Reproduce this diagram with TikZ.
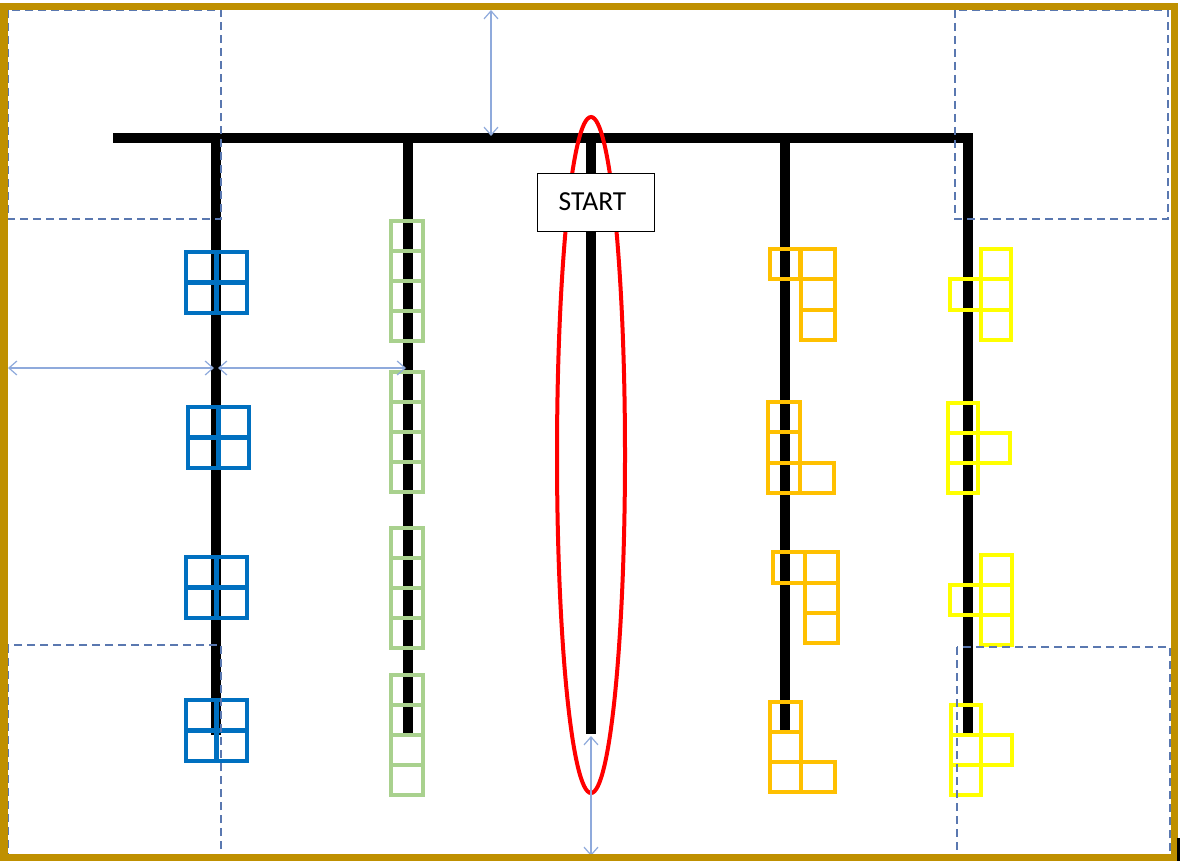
\documentclass[tikz,border=0pt]{standalone}
\usepackage{fontspec}
\setmainfont{Carlito}
\usetikzlibrary{arrows.meta}
\definecolor{framegold}{HTML}{BF9000}
\definecolor{sqblue}{HTML}{0070C0}
\definecolor{sqgreen}{HTML}{A9D18E}
\definecolor{sqorange}{HTML}{FFC000}
\definecolor{sqyellow}{HTML}{FFFF00}
\definecolor{dashblue}{HTML}{5A78B0}
\definecolor{arrowblue}{HTML}{8FAADC}
\newcommand\sqcell[5]{\draw[#1] (#2,#3) rectangle (#4,#5);}
\begin{document}
\begin{tikzpicture}[x=1pt,y=-1pt,
  bar/.style={draw=black,line width=10pt},
  cellblue/.style={draw=sqblue,line width=4.5pt},
  cellgreen/.style={draw=sqgreen,line width=4.5pt},
  cellorange/.style={draw=sqorange,line width=4.5pt},
  cellyellow/.style={draw=sqyellow,line width=4.5pt},
  dashbox/.style={draw=dashblue,line width=1.7pt,dash pattern=on 8pt off 5pt},
  dimarrow/.style={draw=arrowblue,line width=1.2pt,{Straight Barb[length=8pt,width=14pt]}-{Straight Barb[length=8pt,width=14pt]}},
  startbox/.style={draw=black,fill=white,line width=1pt,minimum width=117pt,minimum height=58pt,inner sep=0pt,font=\fontsize{27.5}{32}\selectfont}]
\useasboundingbox (0,0) rectangle (1180,864);
\fill[white] (0,0) rectangle (1180,864);
% black bars
\draw[bar] (113,138) -- (973,138);
\draw[bar] (216,138) -- (216,735);
\draw[bar] (408,138) -- (408,733);
\draw[bar] (591,138) -- (591,734);
\draw[bar] (785,138) -- (785,730);
\draw[bar] (968,138) -- (968,734);
% blue 2x2 groups
\foreach \x/\y in {186/252,188/407,186/557,186/700}{
  \draw[cellblue] (\x,\y) rectangle ++(30.5,30.5);
  \draw[cellblue] (\x+30.5,\y) rectangle ++(30.5,30.5);
  \draw[cellblue] (\x,\y+30.5) rectangle ++(30.5,30.5);
  \draw[cellblue] (\x+30.5,\y+30.5) rectangle ++(30.5,30.5);
}
% green columns
\foreach \y in {221,372,528,675}{
  \foreach \k in {0,1,2,3}{
    \draw[cellgreen] (391,\y+30*\k) rectangle ++(32,30);
  }
}
% orange shapes
\sqcell{cellorange}{770}{249}{800}{279}
\sqcell{cellorange}{801}{249}{835}{279}
\sqcell{cellorange}{801}{279}{835}{310}
\sqcell{cellorange}{801}{310}{835}{340}
\sqcell{cellorange}{768}{402}{800}{432}
\sqcell{cellorange}{768}{432}{800}{463}
\sqcell{cellorange}{768}{463}{800}{493}
\sqcell{cellorange}{800}{463}{834}{493}
\sqcell{cellorange}{773}{552}{805}{583}
\sqcell{cellorange}{805}{552}{838}{583}
\sqcell{cellorange}{805}{583}{838}{613}
\sqcell{cellorange}{805}{613}{838}{643}
\sqcell{cellorange}{770}{702}{801}{732}
\sqcell{cellorange}{770}{732}{801}{762}
\sqcell{cellorange}{770}{762}{801}{792}
\sqcell{cellorange}{801}{762}{835}{792}
% yellow shapes
\sqcell{cellyellow}{981}{249}{1011}{279}
\sqcell{cellyellow}{981}{279}{1011}{310}
\sqcell{cellyellow}{981}{310}{1011}{340}
\sqcell{cellyellow}{950}{279}{981}{310}
\sqcell{cellyellow}{948}{403}{978}{433}
\sqcell{cellyellow}{948}{433}{978}{463}
\sqcell{cellyellow}{948}{463}{978}{493}
\sqcell{cellyellow}{978}{433}{1010}{463}
\sqcell{cellyellow}{981}{555}{1012}{585}
\sqcell{cellyellow}{981}{585}{1012}{615}
\sqcell{cellyellow}{981}{615}{1012}{645}
\sqcell{cellyellow}{950}{585}{981}{615}
\sqcell{cellyellow}{951}{705}{981}{735}
\sqcell{cellyellow}{951}{735}{981}{765}
\sqcell{cellyellow}{951}{765}{981}{795}
\sqcell{cellyellow}{981}{735}{1012}{765}
% red ellipse
\draw[red,line width=4pt] (591,455) ellipse [x radius=34, y radius=338];
% START box
\node[startbox] (start) at (595.5,202) {\hspace*{-6pt}START};
% dashed boxes
\draw[dashbox] (8,10) rectangle (221,219);
\draw[dashbox] (955,10) rectangle (1168,219);
\draw[dashbox] (8,645) rectangle (221,855);
\draw[dashbox] (957,647) rectangle (1170,857);
% dimension arrows
\coordinate (topA) at (491,10);
\coordinate (topB) at (491,136);
\coordinate (leftA) at (8,368);
\coordinate (leftB) at (214,368);
\coordinate (midA) at (218,368);
\coordinate (midB) at (406,368);
\coordinate (botA) at (591,736);
\coordinate (botB) at (591,856);
\draw[dimarrow] (topA) -- (topB);
\draw[dimarrow] (leftA) -- (leftB);
\draw[dimarrow] (midA) -- (midB);
\draw[dimarrow] (botA) -- (botB);
% outer frame
\draw[framegold,line width=7pt] (4,6.5) rectangle (1174,857);
\fill[black] (1177,838) rectangle (1180,861);
\end{tikzpicture}
\end{document}
